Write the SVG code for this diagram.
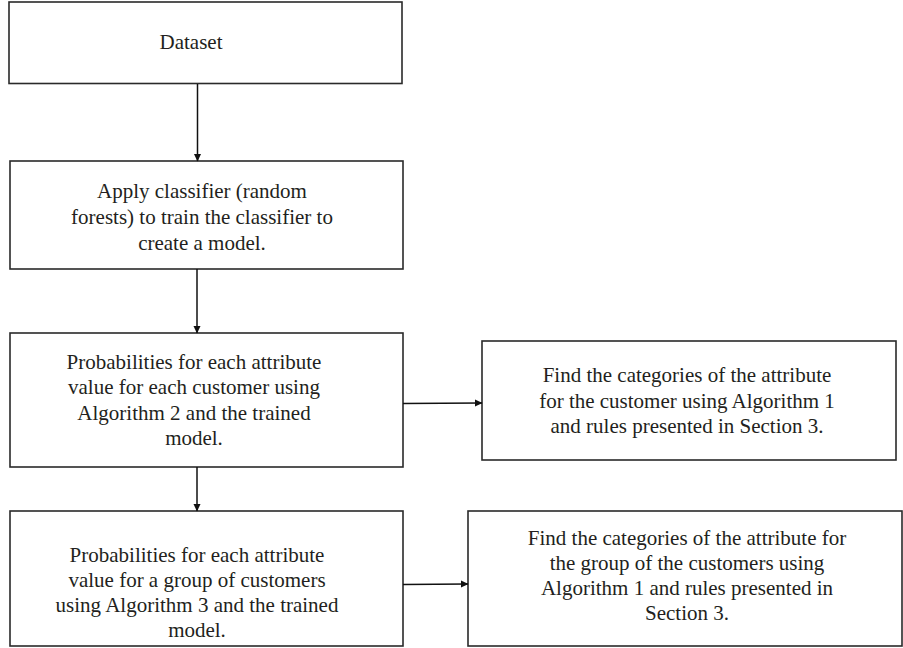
<svg xmlns="http://www.w3.org/2000/svg" width="903" height="648" viewBox="0 0 903 648">
<defs>
<style>
.box{fill:#fff;stroke:#2a2a2a;stroke-width:1.6}
.t{font-family:"Liberation Serif","Times New Roman",serif;font-size:21px;fill:#231f20;text-anchor:middle}
.c{stroke:#111;stroke-width:1.5;fill:none}
</style>
<marker id="ah" markerWidth="8" markerHeight="8" refX="7" refY="4" orient="auto" markerUnits="userSpaceOnUse">
<path d="M0,0.5 L7.5,4 L0,7.5 Z" fill="#111"/>
</marker>
</defs>
<rect width="903" height="648" fill="#fff"/>
<g id="n1"><rect class="box" x="9" y="2" width="393" height="81.5"/>
<text class="t" x="191" y="49">Dataset</text></g>
<g id="n2"><rect class="box" x="10" y="161" width="393" height="108"/>
<text class="t" x="202" y="198">Apply classifier (random</text>
<text class="t" x="202" y="224">forests) to train the classifier to</text>
<text class="t" x="202" y="250">create a model.</text></g>
<g id="n3"><rect class="box" x="10" y="333" width="393" height="134"/>
<text class="t" x="194" y="369">Probabilities for each attribute</text>
<text class="t" x="194" y="394">value for each customer using</text>
<text class="t" x="194" y="420">Algorithm 2 and the trained</text>
<text class="t" x="194" y="445">model.</text></g>
<g id="n4"><rect class="box" x="10" y="511" width="393" height="135"/>
<text class="t" x="197" y="562">Probabilities for each attribute</text>
<text class="t" x="197" y="587">value for a group of customers</text>
<text class="t" x="197" y="612">using Algorithm 3 and the trained</text>
<text class="t" x="197" y="637">model.</text></g>
<g id="n5"><rect class="box" x="482" y="341" width="414" height="119"/>
<text class="t" x="687" y="382">Find the categories of the attribute</text>
<text class="t" x="687" y="408">for the customer using Algorithm 1</text>
<text class="t" x="687" y="433">and rules presented in Section 3.</text></g>
<g id="n6"><rect class="box" x="468" y="511" width="434" height="135"/>
<text class="t" x="687" y="545">Find the categories of the attribute for</text>
<text class="t" x="687" y="570">the group of the customers using</text>
<text class="t" x="687" y="595">Algorithm 1 and rules presented in</text>
<text class="t" x="687" y="620">Section 3.</text></g>
<g id="connectors">
<line class="c" x1="197.5" y1="84" x2="197.5" y2="161" marker-end="url(#ah)"/>
<line class="c" x1="197" y1="269" x2="197" y2="333" marker-end="url(#ah)"/>
<line class="c" x1="197" y1="467" x2="197" y2="511" marker-end="url(#ah)"/>
<line class="c" x1="403" y1="403.5" x2="482" y2="403" marker-end="url(#ah)"/>
<line class="c" x1="403" y1="584.5" x2="468" y2="584" marker-end="url(#ah)"/>
</g>
</svg>
